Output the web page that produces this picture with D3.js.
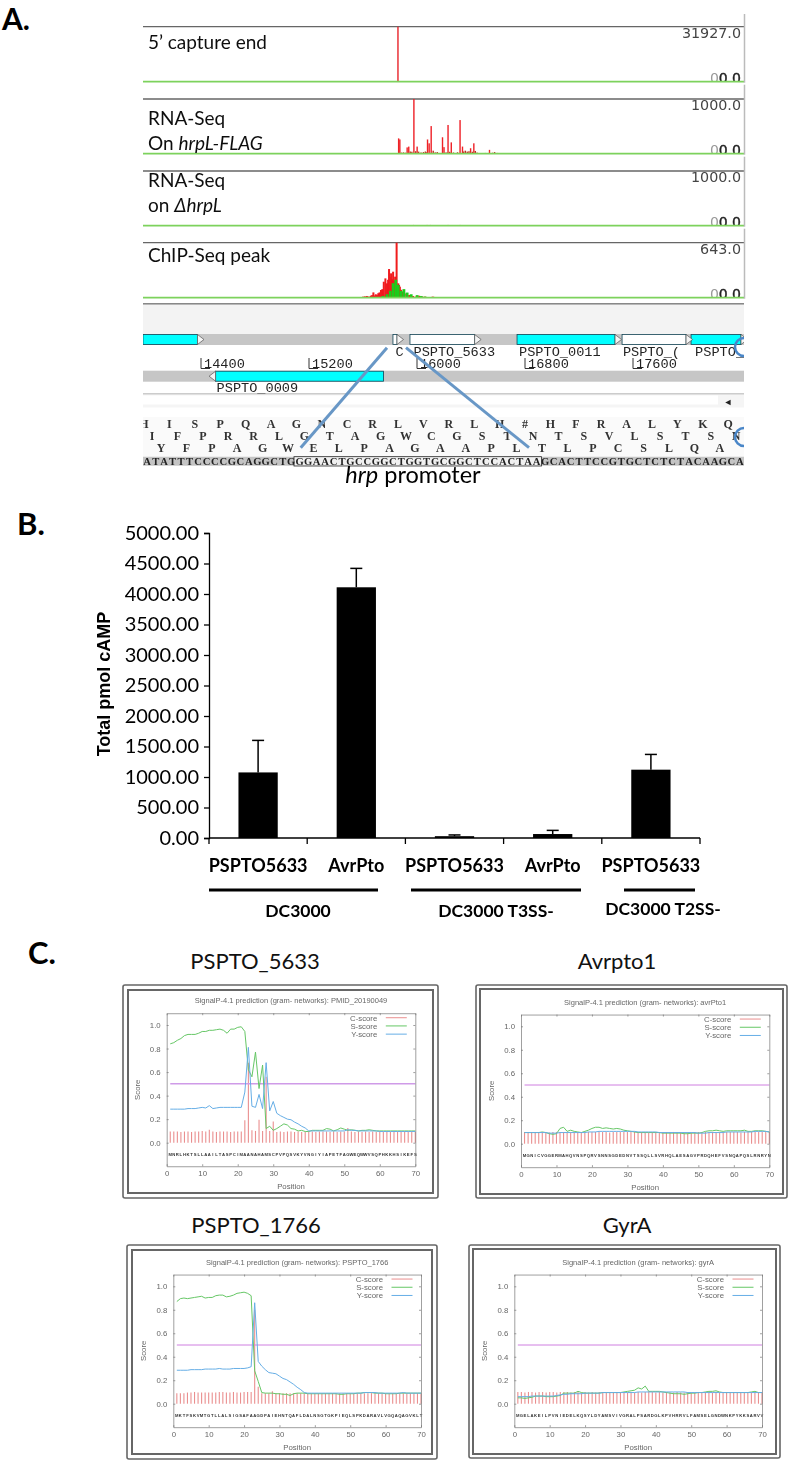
<!DOCTYPE html>
<html>
<head>
<meta charset="utf-8">
<script src="https://cdn.jsdelivr.net/npm/d3@7"></script>
<style>
body { margin: 0; background: #fff; }
svg { display: block; }
text { font-family: Lato, sans-serif; }
</style>
</head>
<body>
<svg id="chart"></svg>
<script>
var WIDTH = 790;
var HEIGHT = 1462;

// panel A: browser tracks
var trackNames = ["capture", "rnaOn", "rnaOff", "chip"];
var trackMax = [31927, 1000, 1000, 643];
var trackMaxLabels = ["31927.0", "1000.0", "1000.0", "643.0"];

var capturePos = [15859];
var captureVal = [31927];

var rnaOnPos = [15864, 15873, 15927, 15939, 15977, 16001, 16078, 16090, 16105, 16189, 16200, 16230, 16254, 16319, 16337, 16397, 16421, 16537];
var rnaOnVal = [280, 260, 115, 130, 1000, 130, 260, 190, 505, 300, 120, 525, 207, 615, 130, 100, 190, 70];
var rnaLowPos = [15885, 15900, 15915, 15950, 15962, 15990, 16012, 16030, 16048, 16062, 16072, 16120, 16135, 16150, 16210, 16222, 16242, 16270, 16300, 16345, 16358, 16372, 16385, 16410, 16432, 16445, 16507, 16560, 16575, 16596];
var rnaLowVal = [20, 24, 18, 40, 36, 45, 38, 22, 30, 40, 26, 55, 24, 30, 20, 24, 35, 22, 26, 40, 55, 38, 45, 36, 50, 20, 14, 18, 30, 14];

var rnaOffPos = [15974, 16075, 16099, 16230, 16319];
var rnaOffVal = [14, 14, 14, 14, 14];

var chipPos = [15555, 15585, 15600, 15614, 15629, 15644, 15659, 15668, 15677, 15686, 15695, 15704, 15713, 15722, 15733, 15743, 15754, 15766, 15778, 15786, 15793, 15800, 15808, 15815, 15823, 15830, 15838, 15849, 15861, 15867, 15873, 15882, 15891, 15900, 15909, 15925, 15942, 15955, 15971, 15990, 16016, 16040, 16060, 16112, 16120, 16128, 16278, 16373, 16447, 16537, 17637, 17712];
var chipRed = [6, 8, 12, 16, 20, 14, 24, 30, 62, 26, 40, 30, 52, 62, 90, 100, 187, 226, 168, 210, 335, 240, 285, 215, 304, 200, 246, 643, 168, 150, 129, 92, 70, 60, 50, 38, 31, 24, 20, 12, 23, 14, 12, 10, 12, 8, 6, 6, 6, 6, 6, 6];
var chipGreenPos = [15748, 15778, 15802, 15823, 15843, 15861, 15882, 15903, 15927, 15957, 16001, 16031, 16060];
var chipGreen = [20, 40, 80, 170, 210, 150, 80, 100, 60, 40, 30, 20, 12];

var geneStart = [13970, 15822, 15948, 16741, 17519, 18030];
var geneEnd = [14374, 15852, 16427, 17467, 17993, 18400];
var geneFill = ["#00ffff", "#ffffff", "#ffffff", "#00ffff", "#ffffff", "#00ffff"];
var geneLabels = ["C", "PSPTO_5633", "PSPTO_0011", "PSPTO_(", "PSPTO_("];
var geneLabelPos = [15840, 15974, 16756, 17525, 18060];
var scaleTicks = [14400, 15200, 16000, 16800, 17600];
var reverseGene = { start: 14508, end: 15752, name: "PSPTO_0009" };

var protein1 = "HISPQAGNCRLVRLH#HFRALYKQ";
var protein2 = "IFPRRLGTAGWCGSTNTSVLSTSN";
var protein3 = "YFPAGWELPAGAAPLTLPCSLQA";
var dnaRow = "ATATTTCCCCGCAGGCTGGGAACTGCCGGCTGGTGCGGCTCCACTAAGCACTTCCGTGCTCTCTACAAGCAA";

// panel B: cAMP
var barIds = ["a", "b", "c", "d", "e"];
var barLabels = ["PSPTO5633", "AvrPto", "PSPTO5633", "AvrPto", "PSPTO5633"];
var barValues = [1075, 4110, 30, 65, 1120];
var barErrorTop = [1600, 4420, 50, 125, 1370];
var yTicks = [0, 500, 1000, 1500, 2000, 2500, 3000, 3500, 4000, 4500, 5000];
var groupNames = ["DC3000", "DC3000 T3SS-", "DC3000 T2SS-"];

// panel C: SignalP
var plotTitles = ["PSPTO_5633", "Avrpto1", "PSPTO_1766", "GyrA"];
var plotNames = ["PMID_20190049", "avrPto1", "PSPTO_1766", "gyrA"];
var plotSeqs = [
    "MNRLHKTSLLAAILTASPCIMAANAHAMSCPVPQSVKYVNGIYIAPETFAGWEQWWVSQPHKKHSIKEFS",
    "MGNICVGGERMAHQVNSPQRVSNNSGDEDNVTSSQLLSVRHQLAESAGVPRDQHEFVSNQAPQSLRNRYN",
    "MKTFSKVMTGTLLALSIGSAFAAGDPAIEHNTQAFLDALNSGTGKPIEQLSPKDARAVLVGQAQAGVKLT",
    "MGELAKEILPVNIEDELKQSYLDYAMSVIVGRALPSARDGLKPVHRRVLFAMSELGNDWNKPYKKSARVV"
];
var cutoff = 0.5;
var positionTicks = [0, 10, 20, 30, 40, 50, 60, 70];
var scoreTicks = [0, 0.2, 0.4, 0.6, 0.8, 1.0];
var legendNames = ["C-score", "S-score", "Y-score"];

var cScore1 = [.095,.095,.095,.09,.095,.095,.09,.095,.095,.10,.095,.11,.095,.09,.095,.095,.095,.09,.095,.095,.095,.19,.68,.105,.10,.195,.10,.56,.10,.18,.09,.095,.09,.095,.095,.09,.095,.09,.09,.095,.095,.09,.095,.095,.095,.09,.095,.09,.095,.095,.125,.095,.09,.095,.09,.095,.09,.095,.09,.095,.09,.095,.09,.09,.095,.09,.095,.09,.095,.09];
var sScore1 = [.84,.85,.87,.885,.91,.92,.92,.92,.93,.945,.945,.955,.955,.96,.965,.955,.93,.965,.965,.98,.985,.945,.62,.56,.77,.46,.66,.12,.14,.105,.12,.14,.16,.15,.12,.115,.10,.105,.095,.095,.105,.105,.105,.105,.12,.115,.10,.11,.125,.115,.105,.11,.105,.10,.105,.105,.11,.105,.10,.10,.10,.10,.10,.10,.10,.10,.10,.10,.10,.10];
var yScore1 = [.285,.285,.285,.285,.285,.29,.29,.29,.295,.30,.295,.315,.29,.295,.30,.30,.30,.30,.30,.30,.30,.43,.81,.31,.30,.41,.29,.68,.27,.35,.25,.23,.215,.20,.195,.175,.16,.14,.125,.10,.10,.10,.10,.10,.10,.10,.10,.10,.10,.10,.11,.105,.105,.10,.10,.10,.10,.10,.10,.095,.095,.095,.095,.095,.095,.095,.095,.095,.095,.095];

var cScore2 = [.10,.10,.10,.10,.10,.10,.10,.095,.10,.10,.10,.10,.10,.10,.10,.10,.095,.10,.10,.10,.10,.10,.10,.10,.095,.10,.10,.10,.10,.10,.10,.10,.10,.10,.10,.095,.10,.10,.10,.10,.10,.10,.10,.10,.10,.10,.10,.095,.10,.10,.10,.10,.10,.10,.10,.10,.10,.10,.10,.10,.10,.095,.10,.10,.10,.10,.10,.10,.10,.10];
var sScore2 = [.095,.095,.095,.095,.095,.10,.095,.085,.08,.085,.13,.14,.105,.115,.105,.10,.095,.105,.115,.13,.14,.14,.13,.135,.13,.125,.13,.125,.115,.11,.105,.10,.095,.095,.095,.095,.095,.095,.095,.09,.09,.09,.09,.09,.09,.085,.085,.09,.09,.09,.095,.105,.11,.11,.115,.11,.105,.11,.11,.11,.11,.11,.115,.105,.105,.11,.11,.11,.105,.10];
var yScore2 = [.095,.095,.095,.095,.095,.095,.095,.09,.09,.09,.095,.095,.095,.095,.095,.095,.095,.095,.10,.10,.10,.105,.105,.105,.105,.105,.105,.105,.105,.105,.105,.105,.10,.10,.10,.10,.10,.10,.095,.095,.095,.095,.095,.095,.095,.095,.095,.095,.095,.09,.09,.09,.095,.095,.095,.095,.095,.10,.10,.10,.10,.10,.10,.10,.10,.105,.105,.105,.105,.10];

var cScore3 = [.09,.09,.09,.095,.095,.10,.095,.095,.095,.095,.095,.095,.10,.10,.095,.095,.10,.095,.095,.10,.10,.10,.80,.145,.09,.09,.09,.105,.09,.09,.09,.09,.09,.09,.09,.09,.09,.09,.09,.09,.09,.09,.09,.09,.09,.09,.09,.09,.09,.09,.09,.09,.09,.09,.09,.09,.09,.09,.09,.09,.09,.09,.09,.09,.09,.09,.09,.09,.09,.09];
var sScore3 = [.87,.895,.90,.895,.90,.905,.91,.915,.90,.905,.905,.92,.925,.925,.91,.915,.925,.94,.945,.95,.94,.92,.28,.19,.095,.09,.09,.09,.085,.085,.08,.08,.07,.085,.09,.09,.09,.085,.085,.085,.085,.085,.085,.085,.085,.085,.08,.08,.085,.085,.085,.09,.09,.095,.095,.095,.09,.09,.09,.085,.085,.085,.085,.09,.09,.09,.09,.09,.09,.09];
var yScore3 = [.285,.285,.285,.285,.29,.29,.29,.29,.295,.295,.295,.295,.30,.295,.295,.295,.30,.30,.30,.30,.305,.315,.86,.36,.32,.29,.265,.26,.255,.235,.215,.205,.185,.165,.14,.12,.095,.09,.09,.09,.09,.09,.09,.09,.09,.09,.09,.09,.09,.09,.09,.09,.09,.095,.095,.095,.095,.09,.09,.09,.09,.09,.09,.09,.095,.09,.09,.09,.09,.09];

var cScore4 = [.10,.10,.095,.10,.10,.095,.10,.10,.095,.10,.10,.095,.10,.10,.10,.095,.10,.10,.095,.10,.095,.10,.095,.10,.10,.095,.10,.095,.10,.095,.10,.095,.10,.095,.10,.095,.10,.105,.10,.095,.10,.095,.10,.095,.095,.10,.095,.095,.10,.095,.095,.10,.095,.10,.10,.095,.10,.095,.095,.10,.095,.10,.095,.10,.095,.10,.095,.10,.095,.095];
var sScore4 = [.05,.05,.045,.05,.055,.065,.065,.065,.06,.06,.06,.065,.07,.09,.09,.09,.09,.105,.095,.09,.09,.09,.09,.09,.095,.095,.095,.095,.095,.095,.10,.105,.11,.115,.135,.125,.15,.105,.105,.105,.105,.10,.095,.09,.085,.085,.085,.08,.085,.09,.09,.095,.095,.10,.105,.105,.11,.10,.095,.095,.095,.095,.095,.095,.095,.095,.10,.105,.095,.095];
var yScore4 = [.06,.06,.06,.06,.065,.065,.065,.065,.065,.065,.065,.07,.075,.08,.08,.085,.085,.085,.085,.09,.09,.09,.09,.09,.095,.095,.095,.095,.095,.095,.095,.095,.095,.095,.10,.10,.10,.10,.10,.10,.10,.10,.10,.10,.10,.10,.10,.10,.095,.095,.095,.095,.095,.095,.095,.095,.095,.095,.095,.095,.095,.095,.095,.095,.095,.095,.095,.095,.095,.095];

var cScores = [cScore1, cScore2, cScore3, cScore4];
var sScores = [sScore1, sScore2, sScore3, sScore4];
var yScores = [yScore1, yScore2, yScore3, yScore4];

var svg = d3.select("#chart").attr("width", WIDTH).attr("height", HEIGHT);

var defs = svg.append("defs");
defs.append("filter").attr("id", "soft").append("feGaussianBlur").attr("stdDeviation", 0.5);
defs.append("filter").attr("id", "softer").append("feGaussianBlur").attr("stdDeviation", 0.3);
defs.append("clipPath").attr("id", "browserClip").append("rect")
    .attr("x", 143).attr("y", 300).attr("width", 601).attr("height", 170);

// panel letters
svg.append("text").attr("x", 2).attr("y", 29.6).attr("font-size", 30).attr("font-weight", 700).text("A.");
svg.append("text").attr("x", 17).attr("y", 535).attr("font-size", 31).attr("font-weight", 700).text("B.");
svg.append("text").attr("x", 28).attr("y", 964).attr("font-size", 31).attr("font-weight", 700).text("C.");

/* ---------- panel A ---------- */
var panelA = svg.append("g").attr("filter", "url(#softer)");
var genome = d3.scaleLinear().domain([14400, 17600]).range([201, 633]);

var trackTops = [26.7, 99, 171, 242.7];
var trackBase = [81.7, 153.7, 225.7, 297.7];
var trackBars = [
    [{ pos: capturePos, val: captureVal, color: "#e8222a", w: 1.4 }],
    [{ pos: rnaLowPos, val: rnaLowVal, color: "#c22a1e", w: 1.4 }, { pos: rnaOnPos, val: rnaOnVal, color: "#ee2026", w: 1.4 }],
    [{ pos: rnaOffPos, val: rnaOffVal, color: "#a5511e", w: 1.2 }],
    [{ pos: chipPos, val: chipRed, color: "#f01a1e", w: 2 }, { pos: chipGreenPos, val: chipGreen, color: "#1ccb1a", w: 2.8 }]
];

trackNames.forEach(function(name, i) {
    var y = d3.scaleLinear().domain([0, trackMax[i]]).range([trackBase[i], trackTops[i]]);
    var g = panelA.append("g").attr("class", "track-" + name);

    g.append("line").attr("x1", 143).attr("x2", 744).attr("y1", trackTops[i]).attr("y2", trackTops[i])
        .attr("stroke", "#666").attr("stroke-width", 1.3);

    trackBars[i].forEach(function(s) {
        g.selectAll(null).data(s.pos).enter().append("rect")
            .attr("x", function(d) { return genome(d) - s.w / 2; })
            .attr("width", s.w)
            .attr("y", function(d, j) { return y(s.val[j]); })
            .attr("height", function(d, j) { return trackBase[i] - y(s.val[j]); })
            .attr("fill", s.color);
    });

    g.append("text").attr("x", 741).attr("y", trackTops[i] + 11).attr("text-anchor", "end")
        .style("font-family", "DejaVu Sans").attr("font-size", 14.3).attr("fill", "#444").text(trackMaxLabels[i]);

    // zero labels run into the baseline, their feet are cut off
    g.append("text").attr("x", 719).attr("y", trackBase[i] + 1.5).attr("text-anchor", "end")
        .style("font-family", "DejaVu Sans").attr("font-size", 14).attr("fill", "#999").text("0");
    g.append("text").attr("x", 741).attr("y", trackBase[i] + 1.5).attr("text-anchor", "end")
        .style("font-family", "DejaVu Sans").attr("font-size", 14).attr("fill", "#222").attr("stroke", "#222").attr("stroke-width", 0.4).text("0.0");
    g.append("rect").attr("x", 700).attr("y", trackBase[i]).attr("width", 44).attr("height", 4).attr("fill", "#fff");

    g.append("line").attr("x1", 143).attr("x2", 744).attr("y1", trackBase[i]).attr("y2", trackBase[i])
        .attr("stroke", "#7dd25c").attr("stroke-width", 1.8);

    g.append("line").attr("x1", 744.5).attr("x2", 744.5).attr("y1", i == 0 ? 14 : trackBase[i - 1] + 3).attr("y2", trackBase[i] + 1)
        .attr("stroke", "#bbb").attr("stroke-width", 1.5);
});

function trackLabel(y, plain, italic) {
    var t = panelA.append("text").attr("x", 148).attr("y", y).attr("font-size", 19).attr("fill", "#111");
    t.append("tspan").text(plain);
    if (italic) t.append("tspan").attr("font-style", "italic").text(italic);
}
trackLabel(49, "5\u2019 capture end");
trackLabel(125, "RNA-Seq");
trackLabel(149.5, "On ", "hrpL-FLAG");
trackLabel(187, "RNA-Seq");
trackLabel(211.5, "on ", "\u0394hrpL");
trackLabel(261.5, "ChIP-Seq peak");

// gene map
var map = panelA.append("g").attr("clip-path", "url(#browserClip)");
map.append("rect").attr("x", 143).attr("y", 303).attr("width", 601).attr("height", 1.6).attr("fill", "#888");
map.append("rect").attr("x", 143).attr("y", 305).attr("width", 601).attr("height", 29).attr("fill", "#f3f3f3");
map.append("rect").attr("x", 143).attr("y", 334).attr("width", 601).attr("height", 11).attr("fill", "#c6c6c6");
map.append("rect").attr("x", 143).attr("y", 370.7).attr("width", 601).attr("height", 11).attr("fill", "#c6c6c6");

map.selectAll(".gene").data(geneStart).enter().append("rect").attr("class", "gene")
    .attr("x", function(d) { return genome(d); })
    .attr("width", function(d, i) { return genome(geneEnd[i]) - genome(d); })
    .attr("y", 334.5).attr("height", 10)
    .attr("fill", function(d, i) { return geneFill[i]; })
    .attr("stroke", "#145").attr("stroke-width", 0.8);

map.selectAll(".arrow").data(geneEnd).enter().append("path").attr("class", "arrow")
    .attr("d", function(d) {
        var x = genome(d);
        return "M" + x + ",334.5L" + (x + 6.5) + ",339.5L" + x + ",344.5Z";
    })
    .attr("fill", "#f4f4f4").attr("stroke", "#555").attr("stroke-width", 0.7);

map.selectAll(".gene-label").data(geneLabels).enter().append("text").attr("class", "gene-label")
    .attr("x", function(d, i) { return genome(geneLabelPos[i]); })
    .attr("y", 355.5)
    .style("font-family", "Liberation Mono").attr("font-size", 13.6).attr("fill", "#222")
    .text(function(d) { return d; });

var scaleG = map.selectAll(".scale-tick").data(scaleTicks).enter().append("g").attr("class", "scale-tick")
    .attr("transform", function(d) { return "translate(" + genome(d) + ",0)"; });
scaleG.append("line").attr("y1", 358).attr("y2", 368.5).attr("stroke", "#333");
scaleG.append("text").attr("x", 3).attr("y", 367.5)
    .style("font-family", "Liberation Mono").attr("font-size", 13.6).attr("fill", "#222")
    .text(function(d) { return d; });
scaleG.append("line").attr("x1", 0).attr("x2", 9).attr("y1", 368.5).attr("y2", 368.5).attr("stroke", "#333");

map.append("rect").attr("x", genome(reverseGene.start)).attr("y", 371.2)
    .attr("width", genome(reverseGene.end) - genome(reverseGene.start)).attr("height", 10)
    .attr("fill", "#00ffff").attr("stroke", "#145").attr("stroke-width", 0.8);
map.append("path")
    .attr("d", "M" + genome(reverseGene.start) + ",371.2L" + (genome(reverseGene.start) - 6.5) + ",376.2L" + genome(reverseGene.start) + ",381.2Z")
    .attr("fill", "#f4f4f4").attr("stroke", "#555").attr("stroke-width", 0.7);
map.append("text").attr("x", genome(reverseGene.start) + 1).attr("y", 392)
    .style("font-family", "Liberation Mono").attr("font-size", 13.6).attr("fill", "#222").text(reverseGene.name);

// scrollbar
map.append("rect").attr("x", 143).attr("y", 393.5).attr("width", 601).attr("height", 1).attr("fill", "#999");
map.append("rect").attr("x", 143).attr("y", 394.5).attr("width", 601).attr("height", 13).attr("fill", "#f5f5f5");
map.append("rect").attr("x", 143).attr("y", 395.5).attr("width", 575).attr("height", 9).attr("fill", "#fff");
map.append("text").attr("x", 728).attr("y", 404.5).attr("text-anchor", "middle").attr("font-size", 9).attr("fill", "#222").text("\u25C4");

// sequence rows
var seqG = panelA.append("g").attr("clip-path", "url(#browserClip)");
seqG.append("rect").attr("x", 143).attr("y", 417).attr("width", 601).attr("height", 39).attr("fill", "#fafafa");
seqG.append("rect").attr("x", 143).attr("y", 456.7).attr("width", 601).attr("height", 9).attr("fill", "#c4c4c4");
seqG.append("rect").attr("x", 294).attr("y", 456.7).attr("width", 247.6).attr("height", 9.3)
    .attr("fill", "#f0f0f0").attr("stroke", "#222").attr("stroke-width", 0.8);

var residue = d3.scaleLinear().domain([0, 1]).range([0, 25.4]);
function proteinRow(letters, x0, y) {
    seqG.selectAll(null).data(letters.split("")).enter().append("text")
        .attr("x", function(d, i) { return x0 + residue(i); })
        .attr("y", y).attr("text-anchor", "middle")
        .style("font-family", "Liberation Serif").attr("font-size", 12).attr("font-weight", 700).attr("fill", "#333")
        .text(function(d) { return d; });
}
proteinRow(protein1, 144, 428);
proteinRow(protein2, 152, 440);
proteinRow(protein3, 161, 452);

seqG.selectAll(null).data(dnaRow.split("")).enter().append("text")
    .attr("x", function(d, i) { return 147.2 + residue(i) / 3; })
    .attr("y", 464.5).attr("text-anchor", "middle")
    .style("font-family", "Liberation Serif").attr("font-size", 10.6).attr("font-weight", 700).attr("fill", "#222")
    .text(function(d) { return d; });

panelA.append("line").attr("x1", 387).attr("y1", 347.7).attr("x2", 300.7).attr("y2", 447.7).attr("stroke", "#6897c6").attr("stroke-width", 3);
panelA.append("line").attr("x1", 406).attr("y1", 347.7).attr("x2", 529).attr("y2", 447.7).attr("stroke", "#6897c6").attr("stroke-width", 3);
panelA.append("path").attr("d", "M744,338A9,9 0 0,0 744,356").attr("fill", "none").attr("stroke", "#4a86c8").attr("stroke-width", 2.5);
panelA.append("path").attr("d", "M744,428A9,9 0 0,0 744,446").attr("fill", "none").attr("stroke", "#4a86c8").attr("stroke-width", 2.5);

var promoter = panelA.append("text").attr("x", 413).attr("y", 483).attr("text-anchor", "middle").attr("font-size", 23.5);
promoter.append("tspan").attr("font-style", "italic").text("hrp");
promoter.append("tspan").text(" promoter");

/* ---------- panel B ---------- */
var panelB = svg.append("g").attr("filter", "url(#softer)");
var xBar = d3.scaleBand().domain(barIds).range([209, 700]).paddingInner(0.6).paddingOuter(0.3);
var yBar = d3.scaleLinear().domain([0, 5000]).range([838, 533]);

panelB.selectAll(".bar").data(barValues).enter().append("rect").attr("class", "bar")
    .attr("x", function(d, i) { return xBar(barIds[i]); })
    .attr("width", xBar.bandwidth())
    .attr("y", function(d) { return yBar(d); })
    .attr("height", function(d) { return yBar(0) - yBar(d); })
    .attr("fill", "#000");

var errorG = panelB.selectAll(".err").data(barErrorTop).enter().append("g").attr("class", "err")
    .attr("transform", function(d, i) { return "translate(" + (xBar(barIds[i]) + xBar.bandwidth() / 2) + ",0)"; });
errorG.append("line").attr("y1", function(d, i) { return yBar(barValues[i]); }).attr("y2", function(d) { return yBar(d); })
    .attr("stroke", "#000").attr("stroke-width", 1.5);
errorG.append("line").attr("x1", -6).attr("x2", 6).attr("y1", function(d) { return yBar(d); }).attr("y2", function(d) { return yBar(d); })
    .attr("stroke", "#000").attr("stroke-width", 1.5);

var yAxisB = panelB.append("g").attr("transform", "translate(209,0)")
    .call(d3.axisLeft(yBar).tickValues(yTicks).tickFormat(d3.format(".2f")).tickSize(5).tickPadding(5));
yAxisB.selectAll("text").attr("font-size", 20).style("font-family", "Lato").attr("fill", "#000");
yAxisB.selectAll("path,line").attr("stroke", "#000").attr("stroke-width", 1.3);

// category ticks sit between the bars
var xLine = panelB.append("g").attr("transform", "translate(0,838)");
xLine.append("line").attr("x1", 209).attr("x2", 700).attr("stroke", "#000").attr("stroke-width", 1.3);
var tickEdges = barIds.map(function(d) { return xBar(d) - xBar.step() * 0.3; }).concat([700]);
xLine.selectAll(".edge").data(tickEdges).enter().append("line").attr("class", "edge")
    .attr("x1", function(d) { return d; }).attr("x2", function(d) { return d; })
    .attr("y1", 0).attr("y2", 6).attr("stroke", "#000").attr("stroke-width", 1.3);

var xAxisB = panelB.append("g").attr("transform", "translate(0,838)")
    .call(d3.axisBottom(xBar).tickSize(0).tickPadding(21).tickFormat(function(d, i) { return barLabels[i]; }));
xAxisB.select(".domain").remove();
xAxisB.selectAll("text").attr("font-size", 18).attr("font-weight", 700).style("font-family", "Lato").attr("fill", "#000");

panelB.append("text").attr("transform", "translate(110,684) rotate(-90)").attr("text-anchor", "middle")
    .style("font-family", "Liberation Sans").attr("font-size", 18).attr("font-weight", 700).text("Total pmol cAMP");

var groupLineX = [[209, 378], [411, 581], [624, 695]];
var groupLabelX = [298, 496, 663];
groupLineX.forEach(function(d, i) {
    panelB.append("line").attr("x1", d[0]).attr("x2", d[1]).attr("y1", 890).attr("y2", 890).attr("stroke", "#000").attr("stroke-width", 2.8);
    panelB.append("text").attr("x", groupLabelX[i]).attr("y", i == 2 ? 915 : 917).attr("text-anchor", "middle")
        .attr("font-size", 17.5).attr("font-weight", 700).text(groupNames[i]);
});

/* ---------- panel C ---------- */
var plotFrames = [
    { x: 123, y: 985, w: 315, h: 213, inset: 5, x0: 166.7, x1: 415.3, y0: 1142.7, cy: 1025 },
    { x: 476, y: 985, w: 311, h: 213, inset: 4, x0: 521, x1: 769.3, y0: 1143.7, cy: 1026.3 },
    { x: 127, y: 1245, w: 310, h: 214, inset: 5, x0: 173.3, x1: 421, y0: 1403.7, cy: 1286.3 },
    { x: 469, y: 1245, w: 311, h: 213, inset: 4, x0: 514.3, x1: 762, y0: 1403.7, cy: 1286.3 }
];
var plotHeadX = [255, 617, 256, 627];
var plotHeadY = [969, 969, 1233, 1233];

plotFrames.forEach(function(f, p) {
    svg.append("text").attr("x", plotHeadX[p]).attr("y", plotHeadY[p]).attr("text-anchor", "middle")
        .attr("font-size", 22).attr("fill", "#111").text(plotTitles[p]);

    var g = svg.append("g").attr("filter", "url(#soft)");
    g.append("rect").attr("x", f.x).attr("y", f.y).attr("width", f.w).attr("height", f.h).attr("rx", 2)
        .attr("fill", "#fff").attr("stroke", "#666").attr("stroke-width", 1.6);
    g.append("rect").attr("x", f.x + f.inset).attr("y", f.y + f.inset).attr("width", f.w - 2 * f.inset).attr("height", f.h - 2 * f.inset)
        .attr("fill", "#fff").attr("stroke", "#666").attr("stroke-width", 2);

    var x = d3.scaleLinear().domain([0, 70]).range([f.x0, f.x1]);
    var y = d3.scaleLinear().domain([0, 1]).range([f.y0, f.cy]);
    var positions = d3.range(1, 71);

    g.selectAll(null).data(cScores[p]).enter().append("line")
        .attr("x1", function(d, i) { return x(positions[i]); })
        .attr("x2", function(d, i) { return x(positions[i]); })
        .attr("y1", y(0))
        .attr("y2", function(d) { return y(d); })
        .attr("stroke", "#ea8f8f").attr("stroke-width", 1.1);

    g.append("line").attr("x1", x(1)).attr("x2", x(70)).attr("y1", y(cutoff)).attr("y2", y(cutoff))
        .attr("stroke", p == 0 ? "#cf9be8" : "#cf7fe0").attr("stroke-width", p == 0 ? 1.5 : 1);

    var line = d3.line().x(function(d, i) { return x(positions[i]); }).y(function(d) { return y(d); });
    g.append("path").attr("d", line(sScores[p])).attr("fill", "none").attr("stroke", "#66c766").attr("stroke-width", 1);
    g.append("path").attr("d", line(yScores[p])).attr("fill", "none").attr("stroke", "#66aee6").attr("stroke-width", 1);

    // amino acid letters along the bottom
    g.selectAll(null).data(plotSeqs[p].split("")).enter().append("text")
        .attr("x", function(d, i) { return x(positions[i]); })
        .attr("y", y(-0.1) + 2).attr("text-anchor", "middle")
        .style("font-family", "Liberation Sans").attr("font-size", 4.2).attr("font-weight", 700).attr("fill", "#333")
        .text(function(d) { return d; });

    var yFull = y.copy().domain([-0.2, 1.1]).range([y(-0.2), y(1.1)]);
    var axisColor = "#777";
    function styleAxis(a) {
        a.selectAll("line").attr("stroke", axisColor).attr("stroke-width", 0.7);
        a.selectAll(".domain").attr("stroke", axisColor).attr("stroke-width", 0.7);
        a.selectAll("text").style("font-family", "Liberation Sans").attr("font-size", 7.8).attr("fill", "#666");
    }
    var bottom = g.append("g").attr("transform", "translate(0," + yFull(-0.2) + ")")
        .call(d3.axisBottom(x).tickValues(positionTicks).tickSize(-2).tickSizeOuter(0).tickPadding(4));
    var left = g.append("g").attr("transform", "translate(" + f.x0 + ",0)")
        .call(d3.axisLeft(yFull).tickValues(scoreTicks).tickFormat(d3.format(".1f")).tickSize(-2).tickSizeOuter(0).tickPadding(6));
    var top = g.append("g").attr("transform", "translate(0," + yFull(1.1) + ")")
        .call(d3.axisTop(x).tickValues(positionTicks).tickSize(-2).tickSizeOuter(0).tickFormat(""));
    var right = g.append("g").attr("transform", "translate(" + f.x1 + ",0)")
        .call(d3.axisRight(yFull).tickValues(scoreTicks).tickSize(-2).tickSizeOuter(0).tickFormat(""));
    [bottom, left, top, right].forEach(styleAxis);

    var mid = (f.x0 + f.x1) / 2;
    g.append("text").attr("x", mid).attr("y", yFull(-0.2) + 23).attr("text-anchor", "middle")
        .style("font-family", "Liberation Sans").attr("font-size", 7.8).attr("fill", "#666").text("Position");
    g.append("text").attr("transform", "translate(" + (f.x0 - 27) + "," + y(0.45) + ") rotate(-90)").attr("text-anchor", "middle")
        .style("font-family", "Liberation Sans").attr("font-size", 7.8).attr("fill", "#666").text("Score");
    g.append("text").attr("x", mid).attr("y", yFull(1.1) - 10).attr("text-anchor", "middle")
        .style("font-family", "Liberation Sans").attr("font-size", 7.5).attr("fill", "#666")
        .text("SignalP-4.1 prediction (gram- networks): " + plotNames[p]);

    var legendColors = ["#ea8f8f", "#66c766", "#66aee6"];
    legendNames.forEach(function(name, i) {
        var ly = yFull(1.1) + 4.5 + i * 8.2;
        g.append("text").attr("x", f.x1 - 38).attr("y", ly + 3).attr("text-anchor", "end")
            .style("font-family", "Liberation Sans").attr("font-size", 7.8).attr("fill", "#666").text(name);
        g.append("line").attr("x1", f.x1 - 29.5).attr("x2", f.x1 - 8.5).attr("y1", ly).attr("y2", ly)
            .attr("stroke", legendColors[i]).attr("stroke-width", 1);
    });
});
</script>
</body>
</html>
